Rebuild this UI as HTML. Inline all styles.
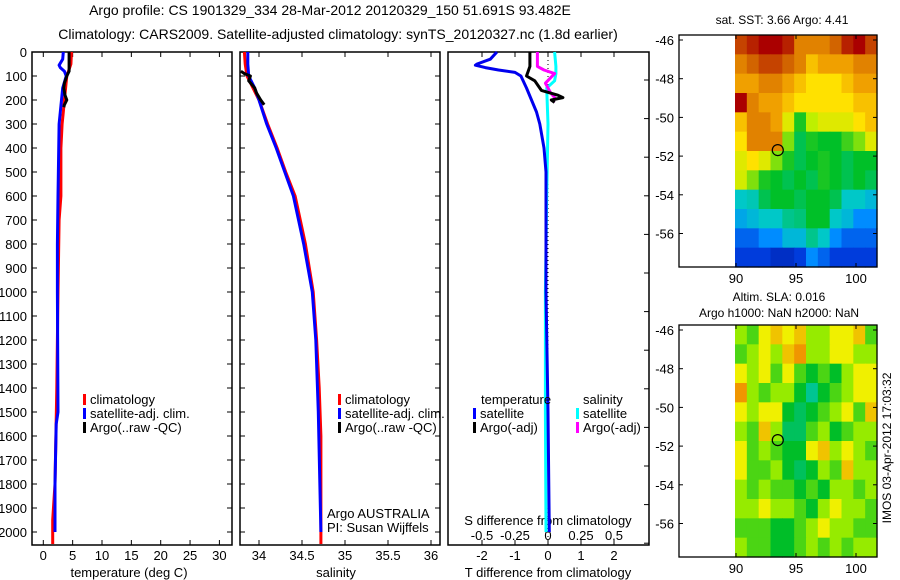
<!DOCTYPE html>
<html><head><meta charset="utf-8">
<style>
html,body{margin:0;padding:0;background:#fff;}
svg{display:block;font-family:"Liberation Sans",Arial,sans-serif;}
</style></head>
<body>
<svg id="fig" width="900" height="580" viewBox="0 0 900 580">
<text x="330" y="15" font-size="14" text-anchor="middle">Argo profile: CS 1901329_334 28-Mar-2012 20120329_150 51.691S 93.482E</text>
<text x="338" y="39" font-size="14" text-anchor="middle">Climatology: CARS2009. Satellite-adjusted climatology: synTS_20120327.nc (1.8d earlier)</text>
</svg>
<script>
// ---------- data ----------
const depthTicks=[0,100,200,300,400,500,600,700,800,900,1000,1100,1200,1300,1400,1500,1600,1700,1800,1900,2000];
const tempTicks=[0,5,10,15,20,25,30];
const salTicks=[34,34.5,35,35.5,36];
const tdiffTicks=[-2,-1,0,1,2];
const sdiffTicks=[-0.5,-0.25,0,0.25,0.5];
const tClimDepth=[0,50,80,100,150,200,250,300,400,600,700,1000,1400,1800,1950,2050];
const tClimVal=[4.8,4.7,4.3,4.0,3.8,3.6,3.4,3.2,3.0,3.0,2.7,2.5,2.3,2.0,1.6,1.6];
const tSatDepth=[0,30,55,65,80,100,150,200,300,600,800,1000,1500,1550,1800,2000];
const tSatVal=[3.4,3.3,2.7,2.9,3.6,3.9,3.3,3.1,2.7,2.5,2.4,2.4,2.5,2.2,2.0,2.0];
const tArgoDepth=[0,80,100,130,150,180,200,220,230];
const tArgoVal=[4.4,4.4,4.0,3.6,3.5,3.7,4.0,3.6,3.5];
const sClimDepth=[0,50,100,150,200,300,400,500,600,800,1000,1200,1400,1600,2050];
const sClimVal=[33.83,33.84,33.86,33.93,34.0,34.1,34.21,34.31,34.42,34.54,34.63,34.67,34.70,34.72,34.72];
const sSatDepth=[0,50,100,150,200,300,400,500,600,800,1000,1200,1500,2000];
const sSatVal=[33.87,33.87,33.88,33.95,34.0,34.09,34.2,34.3,34.4,34.52,34.62,34.66,34.69,34.72];
const sArgoDepth=[80,90,100,120,150,170,200,220];
const sArgoVal=[33.79,33.83,33.90,33.88,33.95,33.97,34.02,34.06];
const tdSatDepth=[0,30,50,55,65,75,85,100,150,200,250,300,400,500,1000,1500,2000];
const tdSatVal=[-1.55,-1.75,-2.15,-2.2,-1.9,-1.5,-1.0,-0.82,-0.65,-0.5,-0.35,-0.25,-0.12,-0.06,-0.06,0.0,0.04];
const tdArgoDepth=[0,60,80,100,120,140,160,180,190,200,210];
const tdArgoVal=[-0.55,-0.55,-0.6,-0.65,-0.4,-0.3,-0.2,0.3,0.45,0.1,0.2];
const sdSatDepth=[0,60,90,120,150,300,600,1000,1500,2000];
const sdSatVal=[0.05,0.06,0.06,0.05,-0.01,0.0,-0.01,-0.02,-0.02,-0.015];
const sdArgoDepth=[0,60,75,90,130,170,190,210];
const sdArgoVal=[-0.08,-0.08,-0.03,0.05,-0.02,0.02,0.05,0.04];
const sstGrid=[
[9,9.5,10,10,9.5,8,8,8,8.5,9.5,10,9],
[8,8.5,9,9,8.5,8,7,7.5,7.5,7.5,8,8],
[7.5,7.5,8,8,7.5,7,6.5,6.5,6.5,7,7.5,7.5],
[10,8,7.5,7.5,7,6.5,6.5,6.5,6.5,6.5,7,7],
[7,8,8,7.5,6,4.2,5.5,6,6,6,6.5,7],
[6.5,8,8,8,5,3.8,4.2,4,4,4.5,5,6],
[6,6.5,6,5,4.2,3.8,4,4.2,4,3.8,4,4],
[5.8,5,4.2,4,3.8,4,3.8,4.2,4,3.8,4,3.8],
[3.2,3.3,3.8,4,4,3.8,4,4,3.8,3.2,3.2,3],
[2.8,3,3.2,3.2,3.5,3.6,4,4,3.2,3,2.5,2.5],
[2,2,2.5,2.5,3,3,3.5,3.2,2.5,2,2,2],
[1.5,1.5,1.5,1,1,1.5,2.5,2,1.5,1.5,1.5,1.5]];
const slaGrid=[
[5,4,6,7,6,7,5,5,6,6,7,4],
[4,5,6,5,7,8,5,5,6,6,5,5],
[6,5,6,4,6,4,3,4,3,5,6,6],
[8,5,4,5,5,3,1,3,4,5,6,6],
[6,5,6,6,3,2,3,4,5,6,4,7],
[5,4,7,5,2,2,4,5,3,4,5,5],
[6,4,5,4,3,3,6,7,5,6,5,4],
[6,4,4,5,3,2,3,5,4,7,5,5],
[5,4,5,4,4,3,4,3,5,5,4,5],
[5,5,6,5,5,4,3,5,6,5,5,4],
[4,4,4,3,3,4,5,6,5,5,4,4],
[5,4,4,3,3,4,5,4,5,4,5,5]];
const latTicks=[-46,-48,-50,-52,-54,-56];
const lonTicks=[90,95,100];
const argoLon=93.482, argoLat=-51.691;

// ---------- helpers ----------
const NS='http://www.w3.org/2000/svg';
const svg=document.getElementById('fig');
function mk(tag,attrs,parent){const e=document.createElementNS(NS,tag);for(const k in attrs)e.setAttribute(k,attrs[k]);(parent||svg).appendChild(e);return e;}
function txt(x,y,s,anchor,size){const e=mk('text',{x:x,y:y,'font-size':size||13,'text-anchor':anchor||'start'});e.textContent=s;return e;}
const yD=d=>52+d*0.24;
const xT=t=>43.3+t*5.87;
const xS=s=>259+(s-34)*86;
const xTD=v=>548+v*33;
const xSD=v=>548+v*132;
function line(xs,ys,xf,col,w,name){
  let p='';for(let i=0;i<xs.length;i++)p+=(i?'L':'M')+xf(xs[i]).toFixed(1)+','+yD(ys[i]).toFixed(1);
  const e=mk('path',{d:p,fill:'none',stroke:col,'stroke-width':w||3,'stroke-linejoin':'round'});
  
  
}
function frame(x0,x1,name){
  const e=mk('rect',{x:x0,y:52,width:x1-x0,height:493,fill:'none',stroke:'#000','stroke-width':1.5});
  
  
}
// ---------- panel 1 ----------
frame(32,232,'temperature-panel-frame');
depthTicks.forEach(d=>{mk('line',{x1:32,x2:37,y1:yD(d),y2:yD(d),stroke:'#000'});mk('line',{x1:227,x2:232,y1:yD(d),y2:yD(d),stroke:'#000'});
  const t=txt(27,yD(d)+5,String(d),'end');});
tempTicks.forEach(v=>{const x=xT(v);mk('line',{x1:x,x2:x,y1:545,y2:540,stroke:'#000'});mk('line',{x1:x,x2:x,y1:52,y2:57,stroke:'#000'});
  const t=txt(x,560,String(v),'middle');});
{const t=txt(129,577,'temperature (deg C)','middle');}
line(tClimVal,tClimDepth,xT,'#ff0000',3,'temperature-climatology-line');
line(tSatVal,tSatDepth,xT,'#0000ff',3,'temperature-satellite-line');
line(tArgoVal,tArgoDepth,xT,'#000',3,'temperature-argo-line');
function legend(x,y,items,name){
  items.forEach((it,i)=>{const r=mk('rect',{x:x,y:y+i*14-10,width:3,height:11,fill:it[1]});
    
    const t=txt(x+7,y+i*14,it[0]);});
}
legend(83,404,[['climatology','#f00'],['satellite-adj. clim.','#00f'],['Argo(..raw -QC)','#000']],'temperature-legend');
// ---------- panel 2 ----------
frame(240,440,'salinity-panel-frame');
depthTicks.forEach(d=>{mk('line',{x1:240,x2:245,y1:yD(d),y2:yD(d),stroke:'#000'});mk('line',{x1:435,x2:440,y1:yD(d),y2:yD(d),stroke:'#000'});});
salTicks.forEach(v=>{const x=xS(v);mk('line',{x1:x,x2:x,y1:545,y2:540,stroke:'#000'});mk('line',{x1:x,x2:x,y1:52,y2:57,stroke:'#000'});
  const t=txt(x,560,String(v),'middle');});
{const t=txt(336,577,'salinity','middle');}
line(sClimVal,sClimDepth,xS,'#ff0000',3,'salinity-climatology-line');
line(sSatVal,sSatDepth,xS,'#0000ff',3,'salinity-satellite-line');
line(sArgoVal,sArgoDepth,xS,'#000',3,'salinity-argo-line');
legend(338,404,[['climatology','#f00'],['satellite-adj. clim.','#00f'],['Argo(..raw -QC)','#000']],'salinity-legend');
{const t=txt(327,518,'Argo AUSTRALIA');
 const u=txt(327,532,'PI: Susan Wijffels');}
// ---------- panel 3 ----------
frame(448,649,'difference-panel-frame');
for(let y=80;y<545;y+=38.6){mk('line',{x1:644,x2:649,y1:y,y2:y,stroke:'#000'});}
tdiffTicks.forEach(v=>{const x=xTD(v);mk('line',{x1:x,x2:x,y1:545,y2:540,stroke:'#000'});
  const t=txt(x,560,String(v),'middle');});
sdiffTicks.forEach(v=>{const x=xSD(v);mk('line',{x1:x,x2:x,y1:52,y2:57,stroke:'#000'});
  const t=txt(x,540,String(v),'middle');});
{const t=txt(548,577,'T difference from climatology','middle');
 const u=txt(548,525,'S difference from climatology','middle');}
{const z=mk('line',{x1:548,x2:548,y1:52,y2:545,stroke:'#000','stroke-dasharray':'1,3'});}
line(sdSatVal,sdSatDepth,xSD,'#00ffff',3,'salinity-diff-satellite-line');
line(tdSatVal,tdSatDepth,xTD,'#0000ee',3,'temperature-diff-satellite-line');
line(sdArgoVal,sdArgoDepth,xSD,'#ff00ff',3,'salinity-diff-argo-line');
line(tdArgoVal,tdArgoDepth,xTD,'#000',3,'temperature-diff-argo-line');
{const t=txt(481,404,'temperature');
 const u=txt(583,404,'salinity');}
legend(473,418,[['satellite','#00f'],['Argo(-adj)','#000']],'diff-legend-temperature');
legend(576,418,[['satellite','#0ff'],['Argo(-adj)','#f0f']],'diff-legend-salinity');
// ---------- maps ----------
function interp(stops,v){for(let i=1;i<stops.length;i++){if(v<=stops[i][0]){const a=stops[i-1],b=stops[i];const f=(v-a[0])/(b[0]-a[0]);
  return 'rgb('+[0,1,2].map(k=>Math.round(a[1][k]+(b[1][k]-a[1][k])*f)).join(',')+')';}}const l=stops[stops.length-1][1];return 'rgb('+l.join(',')+')';}
const sstStops=[[0,[0,20,150]],[1.5,[0,60,220]],[2.5,[0,140,255]],[3.2,[0,200,200]],[4,[0,192,40]],[5.5,[190,240,0]],[6.5,[255,225,0]],[7.5,[240,160,0]],[8.5,[210,100,0]],[10,[170,0,0]]];
const slaStops=[[0,[0,200,200]],[3,[0,190,40]],[5,[150,235,0]],[6,[240,240,0]],[8,[240,150,0]]];
function map(top,grid,stops,name){
  const x0=679,x1=877,h=232,bottom=top+h;
  const lonX=l=>736+(l-90)*12;
  const latY=l=>top+5+(-46-l)*19.35;
  const g=mk('g',{});
  const rows=grid.length,cols=grid[0].length;
  const cw=(x1-735)/cols,ch=h/rows;
  grid.forEach((row,r)=>row.forEach((v,c)=>{const e=mk('rect',{x:(735+c*cw).toFixed(2),y:(top+r*ch).toFixed(2),width:(cw+0.6).toFixed(2),height:(ch+0.6).toFixed(2),fill:interp(stops,v)},g);
    }));
  const f=mk('rect',{x:x0,y:top,width:x1-x0,height:h,fill:'none',stroke:'#000','stroke-width':1.3});
  
  latTicks.forEach(l=>{const y=latY(l);mk('line',{x1:x0,x2:x0+4,y1:y,y2:y,stroke:'#000'});mk('line',{x1:x1-4,x2:x1,y1:y,y2:y,stroke:'#000'});
    const t=txt(674,y+5,String(l),'end');});
  lonTicks.forEach(l=>{const x=lonX(l);mk('line',{x1:x,x2:x,y1:bottom,y2:bottom-4,stroke:'#000'});mk('line',{x1:x,x2:x,y1:top,y2:top+4,stroke:'#000'});
    const t=txt(x,bottom+16,String(l),'middle');});
  const c=mk('circle',{cx:lonX(argoLon),cy:latY(argoLat),r:5.5,fill:'none',stroke:'#000','stroke-width':1.2});
  
}
map(35,sstGrid,sstStops,'sst-map');
map(325,slaGrid,slaStops,'sla-map');
{const t=txt(782,24,'sat. SST: 3.66 Argo: 4.41','middle',12);
 const a=txt(779,301,'Altim. SLA: 0.016','middle',12);
 const b=txt(779,317,'Argo h1000: NaN h2000: NaN','middle',12);
 const r=txt(0,0,'IMOS 03-Apr-2012 17:03:32','middle',12);r.setAttribute('transform','translate(891,448) rotate(-90)');
 }
</script>
</body></html>
